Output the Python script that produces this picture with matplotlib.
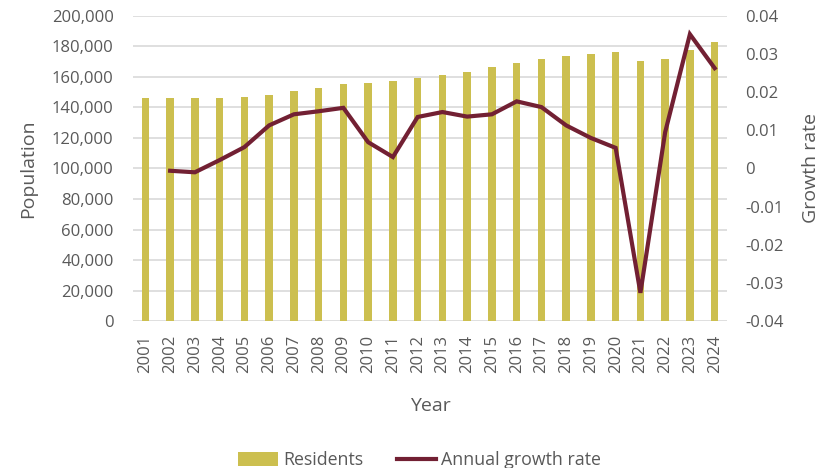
import matplotlib.pyplot as plt
from matplotlib.ticker import FuncFormatter

# residents per year and the annual growth rate
years = [str(y) for y in range(2001, 2025)]
residents = [146000, 146000, 146100, 146300, 146800, 148100, 150500, 152500,
             155500, 156200, 157100, 159000, 161200, 163400, 166300, 169300,
             172000, 173500, 175200, 176300, 170600, 172000, 177900, 182900]
growth_years = years[1:]
growth = [-0.0006, -0.0010, 0.0022, 0.0056, 0.0113, 0.0142, 0.0150, 0.0159,
          0.0069, 0.0030, 0.0135, 0.0148, 0.0136, 0.0142, 0.0176, 0.0161,
          0.0113, 0.0080, 0.0054, -0.0326, 0.0095, 0.0352, 0.0263]

bar_col = '#CCBF4F'
line_col = '#722033'
txt_col = '#595959'
grid_col = '#D9D9D9'

plt.rcParams['font.family'] = ['Open Sans', 'DejaVu Sans']

fig = plt.figure(figsize=(8.23, 4.68), dpi=100)
ax = fig.add_axes([0.1616, 0.314, 0.7218, 0.652])
ax2 = ax.twinx()

x = list(range(len(years)))
bars = ax.bar(x, residents, width=0.31, color=bar_col, label='Residents', zorder=2)
gx = [years.index(y) for y in growth_years]
line, = ax2.plot(gx, growth, color=line_col, lw=3, label='Annual growth rate',
                 solid_joinstyle='miter', zorder=3)

ax.set_xlim(-0.5, len(years) - 0.5)
ax.set_ylim(0, 200000)
ax.set_yticks(range(0, 200001, 20000))
ax.yaxis.set_major_formatter(FuncFormatter(lambda v, p: f'{int(v):,}'))
ax2.set_ylim(-0.04, 0.04)
ax2.set_yticks([-0.04, -0.03, -0.02, -0.01, 0, 0.01, 0.02, 0.03, 0.04])
ax2.set_yticklabels(['-0.04', '-0.03', '-0.02', '-0.01', '0', '0.01', '0.02', '0.03', '0.04'])

ax.set_xticks(x)
ax.set_xticklabels(years, rotation=90)

ax.grid(axis='y', color=grid_col, lw=1.2, zorder=0)
ax.set_axisbelow(True)
for a in (ax, ax2):
    for s in a.spines.values():
        s.set_visible(False)
    a.tick_params(length=0, colors=txt_col, labelsize=12)
ax.tick_params(axis='y', pad=14)
ax.tick_params(axis='x', pad=10)
ax2.tick_params(axis='y', pad=13)

ax.set_ylabel('Population', fontsize=14, color=txt_col)
ax.yaxis.set_label_coords(-0.162, 0.5)
ax2.set_ylabel('Growth rate', fontsize=14, color=txt_col)
ax2.yaxis.set_label_coords(1.126, 0.5)
ax.set_xlabel('Year', fontsize=14, color=txt_col)
ax.xaxis.set_label_coords(0.5, -0.249)

fig.legend([bars, line], ['Residents', 'Annual growth rate'], loc='lower center',
           bbox_to_anchor=(0.51, -0.037), ncol=2, frameon=False, fontsize=12.8,
           handlelength=2.2, handleheight=0.85, columnspacing=1.9, handletextpad=0.3,
           labelcolor=txt_col)

fig.savefig('out.png', dpi=100)
